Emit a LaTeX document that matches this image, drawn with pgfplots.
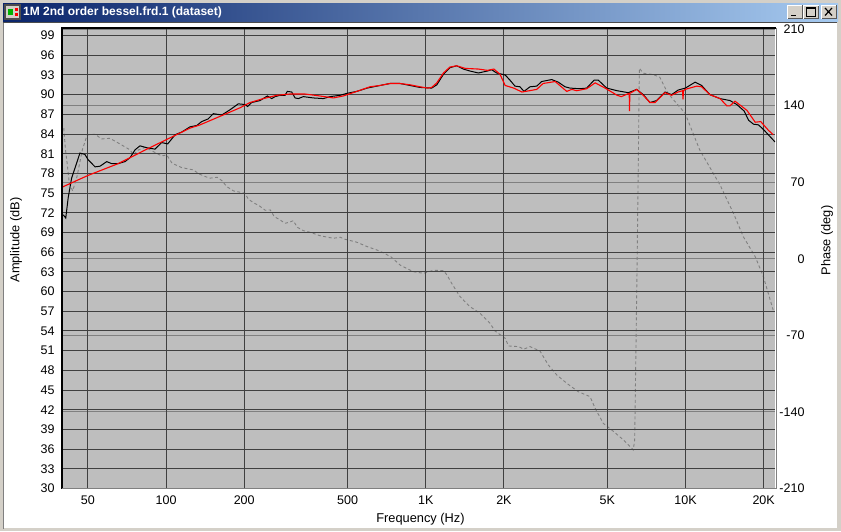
\documentclass[border=0pt]{standalone}
\usepackage{fontspec}
\usepackage{pgfplots}
\pgfplotsset{compat=1.18}
\setmainfont{Liberation Sans}
\definecolor{win}{HTML}{D4D0C8}
\definecolor{face}{HTML}{BEBEBE}
\definecolor{griddark}{HTML}{404040}
\definecolor{gridlight}{HTML}{808080}
\definecolor{tstart}{HTML}{0A246A}
\definecolor{tend}{HTML}{A6CAF0}
\newcommand{\tk}{\fontsize{12.5}{14}\selectfont}
\newcommand{\lb}{\fontsize{12.8}{14}\selectfont}
\begin{document}
\begin{tikzpicture}
\useasboundingbox (0pt,0pt) rectangle (841pt,-531pt);
\begin{scope}[x=1pt,y=-1pt]
  \fill[win] (0,0) rectangle (841,531);
  \shade[left color=tstart,right color=tend] (3,3) rectangle (838,21);
  \fill[white] (4,23) rectangle (837,528);
  \draw[gridlight,line width=1.2pt] (3.5,22.5) -- (3.5,529);
  \draw[black!70,line width=1pt] (3,22.5) -- (837,22.5);
  \fill[black!70] (4,4) rectangle (21,20);
  \fill[win] (6,6) rectangle (19,18);
  \fill[green!70!black] (8,9) rectangle (13,15);
  \fill[red] (15,8) rectangle (18,11);
  \fill[red] (15,13) rectangle (18,16);
  \node[anchor=west,text=white,inner sep=0pt,font=\bfseries\fontsize{12}{14}\selectfont] at (23,12) {1M 2nd order bessel.frd.1 (dataset)};
  \foreach \a/\b in {787/802,803/818.5,821/836}{
    \fill[win] (\a,5) rectangle (\b,18.5);
    \draw[black!65,line width=.7pt] (\a,18.5) -- (\b,18.5) -- (\b,5);
    \draw[white,line width=.7pt] (\a,18.5) -- (\a,5) -- (\b,5);
  }
  \draw[black,line width=1.5pt] (791,15.5) -- (796,15.5);
  \draw[black,line width=.9pt] (806.5,7.5) rectangle (815,16);
  \draw[black,line width=1.4pt] (806.5,7.8) -- (815,7.8);
  \draw[black,line width=1.2pt] (825,8) -- (832,15.5) (832,8) -- (825,15.5);
\end{scope}
\begin{axis}[xmode=log, xmin=39.76, xmax=22120,
  scale only axis, width=713pt, height=459.5pt,
  axis line style={draw=none}, tick style={draw=none},
  tick label style={font=\tk},
  at={(62pt,-488.5pt)}, anchor=south west,
  axis background/.style={fill=face},
  xtick=\empty, ymin=-210, ymax=210,
  axis y line*=right,
  ytick={-210,-140,-70,0,70,140,210},
  ymajorgrids, y grid style={gridlight,line width=1pt},
  yticklabel style={anchor=east,xshift=33pt,/pgf/number format/assume math mode=true}]
\addplot[gridlight,line width=.9pt,dash pattern=on 3pt off 2.5pt] coordinates {
(40.4,119.3)(41.0,99.5)(41.6,87.6)(42.4,69.3)(43.7,62)(45.4,75)(47.6,99.5)(49.7,113.2)
(53.3,113.8)(56.5,109.5)(60.8,110.1)(66.5,104.9)(72.7,99.5)(74.9,94.9)(78.3,99.5)(83.1,101.9)
(89.5,97.9)(96.2,94)(100.6,94.9)(105.5,87.3)(115,83.3)(127.5,81.2)(134,77.5)(147,73.6)
(157.3,74.5)(164,71.4)(171.5,65.9)(182,62)(201.4,59.9)(207.5,54.4)(217,51.3)(228.8,48.3)
(241,44.3)(252,44.6)(261,38.5)(275,35.5)(287,32.4)(298.5,33.4)(309,34.8)(320,28.8)
(338,25.7)(359,24.2)(391,21.1)(441,18.7)(468,19.7)(489,17.8)(543,15.1)(595,11.1)
(652,7.8)(693,5)(738,1.4)(796,-5.7)(895,-11.8)(980,-13.3)(1072,-10.5)(1170,-10.9)
(1207,-14.8)(1258,-22.4)(1355,-34.6)(1480,-43.8)(1618,-49.8)(1767,-59)(1848,-66)(2022,-72.7)
(2083,-79.7)(2278,-80.3)(2382,-82.7)(2520,-80.3)(2753,-84.3)(2965,-97.1)(3195,-106.2)(3490,-113.8)
(3865,-121.5)(4290,-126)(4490,-136.7)(4825,-150.4)(5200,-156.5)(5770,-165.6)(6260,-174.1)(6295,-174.8)
(6375,-165.6)(6450,-79.7)(6510,-8.4)(6585,90.3)(6645,174.1)(6880,169.6)(7520,168.3)(7970,165.9)
(8555,151.3)(9965,133)(11345,99.5)(13585,67.5)(15300,41.6)(16700,20.2)(18560,1.9)(19960,-16.4)(21815,-47.7)};
\end{axis}
\begin{axis}[xmode=log, xmin=39.76, xmax=22120,
  scale only axis, width=713pt, height=459.5pt,
  axis line style={draw=none}, tick style={draw=none},
  tick label style={font=\tk},
  at={(62pt,-488.5pt)}, anchor=south west,
  ymin=30, ymax=100,
  xtick={50,100,200,500,1000,2000,5000,10000,20000},
  xticklabels={50,100,200,500,1K,2K,5K,10K,20K},
  xticklabel style={yshift=-4pt},
  ytick={30,33,...,99},
  yticklabel style={xshift=-4pt,/pgf/number format/assume math mode=true},
  grid=major, grid style={griddark,line width=1pt}]
\addplot[black,line width=1pt] coordinates {
(40.2,71.7)(41.1,71.2)(42,74.3)(43.3,77.3)(44.6,78.8)(46.6,81.1)(48.7,80.9)(50.1,80.1)
(53.3,79)(55.7,79.1)(59.1,79.8)(61.7,79.5)(65.5,79.5)(69.5,79.8)(72.7,80.4)(76,81.6)
(79.4,82.2)(84.6,81.9)(90.7,81.7)(96.2,82.7)(101.5,82.5)(108.4,83.9)(114.9,84.3)(123.7,85.1)
(131.3,85.3)(137.2,85.9)(145.2,86.3)(152,87.1)(163.9,86.9)(176.4,87.7)(189.8,88.6)(201.4,88.5)
(206,88.2)(213.8,88.8)(230.1,89.1)(245.5,89.8)(255.2,89.4)(262.8,89.7)(275,89.9)(287.2,89.9)
(293,90.5)(304.7,90.4)(314,89.5)(323,89.4)(337.8,89.7)(369,89.5)(403.3,89.4)(428,89.7)
(468,89.9)(497,90.2)(543,90.5)(595,91)(667,91.4)(728.5,91.7)(796,91.7)(870,91.4)
(949,91.1)(1054,91)(1103,91.5)(1170,93.1)(1238,94.1)(1315,94.4)(1395,93.9)(1480,93.6)
(1595,93.3)(1727,93.6)(1794,93.8)(1875,93.3)(2022,93)(2111,92.2)(2206,91.3)(2305,91.2)
(2389,90.5)(2520,91.2)(2675,91.3)(2795,92)(3055,92.3)(3240,91.9)(3437,91.2)(3593,91)
(3925,90.9)(4165,91)(4445,92.2)(4620,92.2)(4975,91)(5455,90.6)(6025,90.3)(6490,90.8)
(6880,90)(7300,88.8)(7745,89.1)(8340,90.4)(8845,90)(9370,90.7)(9990,91)(10890,91.9)
(11540,91.4)(12420,90)(13585,89.4)(14845,89.1)(15760,88.5)(16830,87.5)(17500,86.1)(18285,85.5)
(19100,85.4)(19960,84.7)(22120,82.8)};
\addplot[red,line width=1.1pt] coordinates {
(39.76,75.9)(50.1,77.7)(65.5,79.5)(84.4,81.7)(108.4,83.8)(123.7,84.9)(135.2,85.4)(161.5,86.7)
(192.7,88)(210.5,88.8)(237,89.4)(267,89.9)(300,90.1)(343,90.1)(391,89.8)(441,89.5)
(481,89.8)(543,90.5)(610,91.2)(667,91.4)(728.5,91.7)(796,91.7)(870,91.5)(949,91.2)
(1017,91)(1054,91.1)(1103,91.8)(1170,93.3)(1238,94.2)(1315,94.4)(1420,94)(1595,93.9)
(1727,93.7)(1830,93.9)(1932,93.1)(2022,91.4)(2180,91)(2347,90.4)(2675,90.8)(2830,91.7)
(3150,92)(3490,90.5)(3650,90.8)(3815,90.6)(4165,90.9)(4490,91.8)(4905,91)(5455,89.9)
(5665,89.7)(5980,90.1)(6075,90.2)(6087,87.5)(6110,90.2)(6490,90.8)(6880,89.9)(7300,88.8)
(7635,88.8)(8340,90.3)(8845,89.9)(9370,90.4)(9740,90.6)(9785,89.3)(9830,90.6)(9965,90.8)
(11050,91.3)(11540,91.2)(12420,90)(13585,89.4)(14430,88.3)(14845,88.3)(15520,89)(17255,87.6)
(18560,85.8)(19490,85.9)(20830,84.6)(21770,83.9)};
\end{axis}
\begin{scope}[x=1pt,y=-1pt]
  \draw[black,line width=1.4pt] (62,488.5) -- (62,28) -- (775.5,28);
  \draw[gridlight,line width=.8pt] (62,488.8) -- (776,488.8) -- (776,28);
  \node[rotate=90,inner sep=0pt,font=\lb] at (16,240) {Amplitude (dB)};
  \node[rotate=90,inner sep=0pt,font=\lb] at (827,240.5) {Phase (deg)};
  \node[inner sep=0pt,font=\lb] at (420.5,519) {Frequency (Hz)};
\end{scope}
\end{tikzpicture}
\end{document}
